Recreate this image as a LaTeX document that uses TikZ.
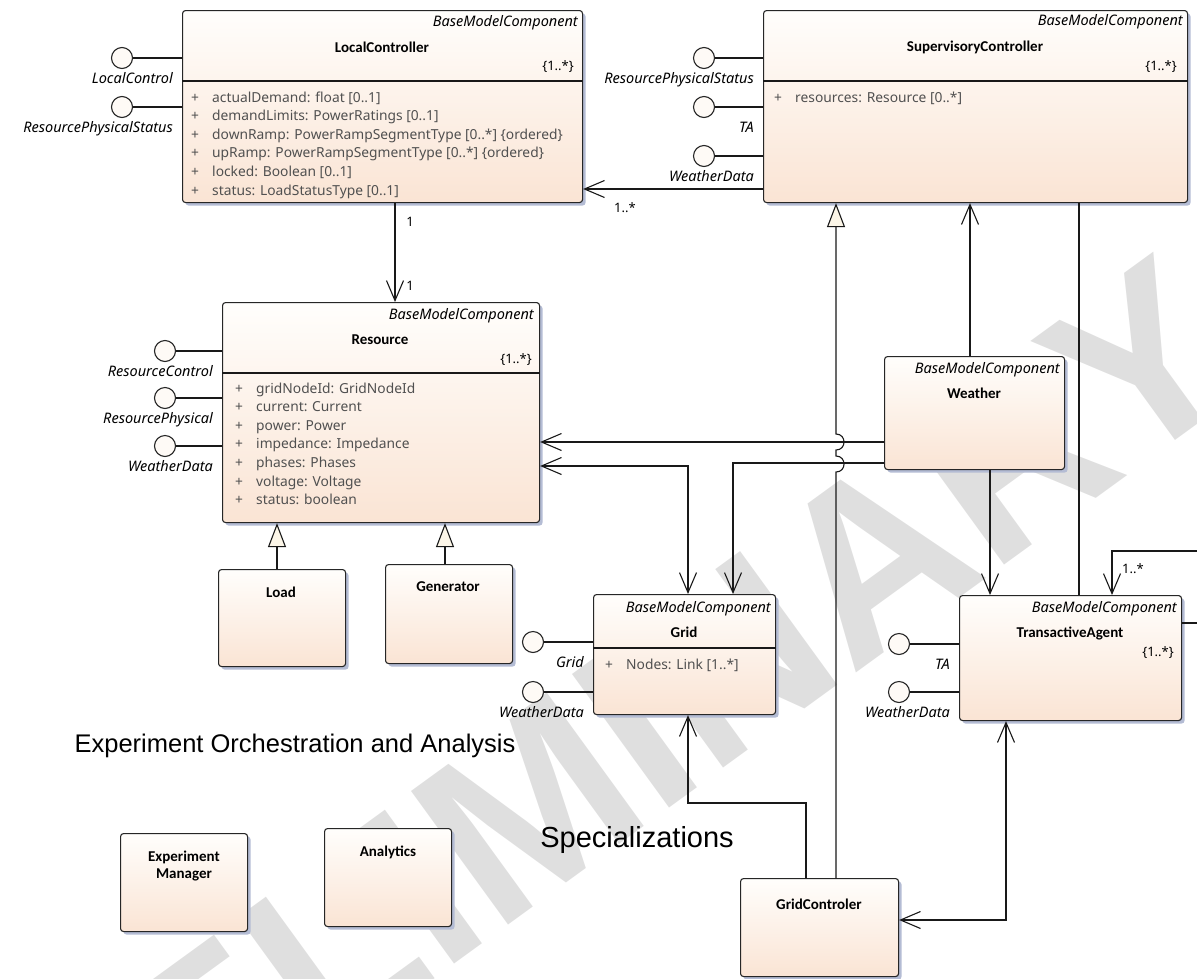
\documentclass[tikz,border=0pt]{standalone}
\usepackage{fontspec}
\setmainfont{Noto Sans}
\newfontfamily\arialf{Liberation Sans}
\newfontfamily\calib{Carlito}
\usetikzlibrary{arrows.meta,calc,shadows}

\definecolor{boxtop}{RGB}{255,254,252}
\definecolor{boxbot}{RGB}{250,228,212}
\definecolor{attrc}{RGB}{80,80,80}
\definecolor{shadowc}{RGB}{180,188,212}
\definecolor{genfill}{RGB}{252,246,232}
\definecolor{ifill}{RGB}{254,250,246}
\definecolor{wmc}{RGB}{223,223,223}

\newcommand\fattr{\fontsize{13.8}{16}\selectfont}
\newcommand\flab{\itshape\fontsize{14.5}{17}\selectfont}
\newcommand\fttl{\calib\bfseries\fontsize{15}{18}\selectfont}
\newcommand\fmult{\fontsize{13}{15}\selectfont}
\newcommand\fhead{\arialf\fontsize{25.5}{30}\selectfont}
\newcommand\fheadb{\arialf\fontsize{29}{33}\selectfont}
\newcommand\fwm{\arialf\bfseries\fontsize{240}{240}\selectfont}

% attribute compartment: prefix, x of "+", first baseline, list of entries
\newcommand\attrs[4]{%
  \foreach \t [count=\i] in {#4}{%
    \node[attr] (#1-\i) at (#2,#3+18.6*\i-18.6) {\makebox[21pt][l]{+}\t};}}

% provided interface (lollipop): name, x, y, label, owning class
\newcommand\lolli[5]{%
  \node[iface] (#1) at (#2,#3) {};
  \draw[conn] (#1) -- (#1 -| #5.west);
  \node[ilabel] (#1-l) at ($(#1 -| #5.west)+(-9,25)$) {#4};}

\begin{document}
\begin{tikzpicture}[x=1pt,y=-1pt,
  cls/.style={draw=black!85, line width=1.1pt, rounded corners=3pt,
    top color=boxtop, bottom color=boxbot, inner sep=0pt, anchor=north west,
    drop shadow={shadow xshift=3pt,shadow yshift=-3pt,fill=shadowc,opacity=1}},
  conn/.style={line width=1.1pt, draw=black!90},
  assoc/.style={conn, -{Straight Barb[length=20pt,width=17pt]}},
  biassoc/.style={conn, {Straight Barb[length=20pt,width=17pt]}-{Straight Barb[length=20pt,width=17pt]}},
  gen/.style={conn, -{Triangle[length=24pt,width=18pt,fill=genfill]}},
  iface/.style={circle, draw=black!85, line width=1.1pt, fill=ifill, minimum size=21pt, inner sep=0pt},
  ilabel/.style={font=\flab, anchor=base east, inner sep=0pt},
  attr/.style={font=\fattr, text=attrc, anchor=base west, inner sep=0pt},
  bmc/.style={font=\flab, anchor=east, inner sep=0pt},
  ttl/.style={font=\fttl, inner sep=0pt},
  mult/.style={font=\fmult, inner sep=0pt},
  heading/.style={font=\fhead, inner sep=0pt},
  wm/.style={font=\fwm, text=wmc, rotate=36, inner sep=0pt}]

\useasboundingbox (0,0) rectangle (1197,978);
\clip (0,0) rectangle (1197,978);

% watermark
\node[wm] (wmark) at (540,800) {PRELIMINARY};

% section headings
\node[heading] (hexp) at (295,746) {Experiment Orchestration and Analysis};
\node[heading, font=\fheadb] (hspec) at (637,840) {Specializations};

% classes
\node[cls, minimum width=400pt, minimum height=192pt] (lc) at (182,10) {};
\node[cls, minimum width=424pt, minimum height=192pt] (sc) at (763,10) {};
\node[cls, minimum width=317pt, minimum height=220pt] (rs) at (222,302) {};
\node[cls, minimum width=180pt, minimum height=113pt] (wt) at (884,356) {};
\node[cls, minimum width=182pt, minimum height=120pt] (gr) at (593,594) {};
\node[cls, minimum width=222pt, minimum height=125pt] (ta) at (959,595) {};
\node[cls, minimum width=127pt, minimum height=97pt] (ld) at (218,569) {};
\node[cls, minimum width=127pt, minimum height=99pt] (gn) at (385,564) {};
\node[cls, minimum width=127pt, minimum height=98pt] (em) at (120,833) {};
\node[cls, minimum width=127pt, minimum height=98pt] (an) at (324,828) {};
\node[cls, minimum width=158pt, minimum height=98pt] (gc) at (740,878) {};

% compartment dividers
\draw[conn] ([yshift=-71pt]lc.north west) -- ([yshift=-71pt]lc.north east);
\draw[conn] ([yshift=-71pt]sc.north west) -- ([yshift=-71pt]sc.north east);
\draw[conn] ([yshift=-71pt]rs.north west) -- ([yshift=-71pt]rs.north east);
\draw[conn] ([yshift=-54pt]gr.north west) -- ([yshift=-54pt]gr.north east);

% LocalController
\node[bmc] (lc-s) at (578,23) {BaseModelComponent};
\node[ttl] (lc-t) at (382,47) {LocalController};
\node[mult, anchor=east] (lc-m) at (574,67) {\{1..*\}};
\attrs{lca}{191}{102}{{actualDemand: float [0..1]},{demandLimits: PowerRatings [0..1]},{downRamp: PowerRampSegmentType [0..*] \{ordered\}},{upRamp: PowerRampSegmentType [0..*] \{ordered\}},{locked: Boolean [0..1]},{status: LoadStatusType [0..1]}}

% SupervisoryController
\node[bmc] (sc-s) at (1183,22) {BaseModelComponent};
\node[ttl] (sc-t) at (975,47) {SupervisoryController};
\node[mult, anchor=east] (sc-m) at (1177,67) {\{1..*\}};
\attrs{sca}{774}{102}{{resources: Resource [0..*]}}

% Resource
\node[bmc] (rs-s) at (534,316) {BaseModelComponent};
\node[ttl] (rs-t) at (380,340) {Resource};
\node[mult, anchor=east] (rs-m) at (532,360) {\{1..*\}};
\attrs{rsa}{235}{393}{{gridNodeId: GridNodeId},{current: Current},{power: Power},{impedance: Impedance},{phases: Phases},{voltage: Voltage},{status: boolean}}

% Weather
\node[bmc] (wt-s) at (1060,370) {BaseModelComponent};
\node[ttl] (wt-t) at (974,393) {Weather};

% Grid
\node[bmc] (gr-s) at (771,609) {BaseModelComponent};
\node[ttl] (gr-t) at (684,632) {Grid};
\attrs{gra}{605}{669}{{Nodes: Link [1..*]}}

% TransactiveAgent
\node[bmc] (ta-s) at (1177,609) {BaseModelComponent};
\node[ttl] (ta-t) at (1070,633) {TransactiveAgent};
\node[mult, anchor=east] (ta-m) at (1174,653) {\{1..*\}};

% plain classes
\node[ttl] (ld-t) at (281,592) {Load};
\node[ttl] (gn-t) at (448,587) {Generator};
\node[ttl, align=center] (em-t) at (184,866) {Experiment\\[-1pt]Manager};
\node[ttl] (an-t) at (388,852) {Analytics};
\node[ttl] (gc-t) at (819,904) {GridControler};

% interfaces
\lolli{lcp1}{122}{58}{LocalControl}{lc}
\lolli{lcp2}{122}{107}{ResourcePhysicalStatus}{lc}
\lolli{scp1}{704}{58}{ResourcePhysicalStatus}{sc}
\lolli{scp2}{704}{107}{TA}{sc}
\lolli{scp3}{704}{156}{WeatherData}{sc}
\lolli{rsp1}{165}{351}{ResourceControl}{rs}
\lolli{rsp2}{165}{398}{ResourcePhysical}{rs}
\lolli{rsp3}{165}{446}{WeatherData}{rs}
\lolli{grp1}{533}{642}{Grid}{gr}
\lolli{grp2}{533}{692}{WeatherData}{gr}
\lolli{tap1}{899}{644}{TA}{ta}
\lolli{tap2}{899}{692}{WeatherData}{ta}

% routing lanes
\coordinate (xlc) at (395,0);
\coordinate (xws) at (970,0);
\coordinate (xst) at (1079,0);
\coordinate (xwt) at (990,0);
\coordinate (xg1) at (688,0);
\coordinate (xg2) at (733,0);
\coordinate (xts) at (1112,0);
\coordinate (xtr) at (1212,0);
\coordinate (xgc) at (806,0);
\coordinate (xgt) at (1006,0);
\coordinate (xgen) at (836,0);
\coordinate (xld) at (277,0);
\coordinate (xgn) at (445,0);
\coordinate (ysl) at (0,189);
\coordinate (yw1) at (0,442);
\coordinate (yw2) at (0,463);
\coordinate (yr2) at (0,466);
\coordinate (yt1) at (0,623);
\coordinate (yt2) at (0,551);
\coordinate (ygc) at (0,803);
\coordinate (ygt) at (0,920);

% associations
\draw[assoc] (sc.west |- ysl) -- (lc.east |- ysl);
\node[mult] (m-sl) at (625,208) {1..*};
\draw[assoc] (lc.south -| xlc) -- (rs.north -| xlc);
\node[mult] (m-l1) at (410,222) {1};
\node[mult] (m-l2) at (410,286) {1};
\draw[assoc] (wt.north -| xws) -- (sc.south -| xws);
\draw[conn] (sc.south -| xst) -- (ta.north -| xst);
\draw[assoc] (wt.west |- yw1) -- (rs.east |- yw1);
\draw[assoc] (wt.west |- yw2) -| (gr.north -| xg2);
\draw[biassoc] (rs.east |- yr2) -| (gr.north -| xg1);
\draw[assoc] (wt.south -| xwt) -- (ta.north -| xwt);
\draw[assoc] (ta.east |- yt1) -- (xtr |- yt1) -- (xtr |- yt2) -- (xts |- yt2) -- (ta.north -| xts);
\node[mult] (m-ts) at (1133,569) {1..*};
\draw[assoc] (gc.north -| xgc) -- (xgc |- ygc) -- (xg1 |- ygc) -- (gr.south -| xg1);
\draw[biassoc] (gc.east |- ygt) -| (ta.south -| xgt);

% generalizations
\draw[gen] (gc.north -| xgen) -- (836,472)
  .. controls (846.7,472) and (846.7,456) .. (836,456) -- (836,450)
  .. controls (846.7,450) and (846.7,434) .. (836,434) -- (sc.south -| xgen);
\draw[gen] (ld.north -| xld) -- (rs.south -| xld);
\draw[gen] (gn.north -| xgn) -- (rs.south -| xgn);

\end{tikzpicture}
\end{document}
